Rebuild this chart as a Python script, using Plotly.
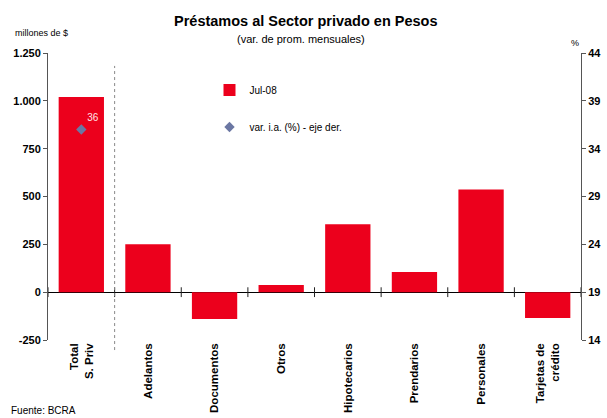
import plotly.graph_objects as go

categorias = ["Total<br>S. Priv", "Adelantos", "Documentos", "Otros", "Hipotecarios",
              "Prendarios", "Personales", "Tarjetas de<br>crédito"]
jul08 = [1020, 250, -140, 37, 355, 105, 537, -135]
var_ia = [36]
y_left_ticks = [-250, 0, 250, 500, 750, 1000, 1250]
y_left_text = ["-250", "0", "250", "500", "750", "1.000", "1.250"]
y_right_ticks = [14, 19, 24, 29, 34, 39, 44]

ROJO = "#EC001C"
AZUL = "#6B77A3"
FONT = "Liberation Sans, Arial, sans-serif"
posiciones = list(range(len(categorias)))
limites = [p - 0.5 for p in posiciones] + [len(categorias) - 0.5]

fig = go.Figure()

fig.add_trace(go.Bar(
    x=posiciones, y=jul08, name="Jul-08",
    marker=dict(color=ROJO, line=dict(width=0)),
    width=0.68, legend="legend",
))

# small tick marks crossing the zero line at the category limits
fig.add_trace(go.Scatter(
    x=limites, y=[0] * len(limites), mode="markers",
    marker=dict(symbol="line-ns", size=7, line=dict(color="#222222", width=1)),
    showlegend=False, hoverinfo="skip",
))

fig.add_trace(go.Scatter(
    x=[posiciones[0]], y=var_ia, name="var. i.a. (%) - eje der.",
    mode="markers+text", text=[str(v) for v in var_ia],
    textposition="top right", textfont=dict(color="#FFE4E8", size=10, family=FONT),
    marker=dict(symbol="diamond", color=AZUL, size=8),
    yaxis="y2", legend="legend2",
))

axis_line = "#555555"

fig.update_layout(
    width=607, height=418,
    margin=dict(l=48, r=26, t=53, b=78),
    paper_bgcolor="white", plot_bgcolor="white",
    font=dict(family=FONT, color="black", size=11),
    showlegend=True,
    xaxis=dict(
        range=[-0.5, len(categorias) - 0.5],
        tickvals=posiciones, ticktext=categorias, tickangle=-90,
        ticks="", showline=False, showgrid=False, zeroline=False,
        tickfont=dict(size=11.5, family=FONT, weight="bold"),
        automargin=False,
    ),
    yaxis=dict(
        range=[y_left_ticks[0], y_left_ticks[-1]],
        tickvals=y_left_ticks, ticktext=y_left_text,
        ticks="outside", ticklen=4, tickcolor=axis_line,
        showline=True, linecolor=axis_line, linewidth=1,
        showgrid=False, zeroline=True, zerolinecolor="black", zerolinewidth=1,
        tickfont=dict(size=11, family=FONT, weight="bold"),
        automargin=False,
    ),
    yaxis2=dict(
        overlaying="y", side="right", anchor="x",
        range=[y_right_ticks[0], y_right_ticks[-1]],
        tickvals=y_right_ticks,
        ticks="outside", ticklen=4, tickcolor=axis_line,
        showline=True, linecolor=axis_line, linewidth=1,
        showgrid=False, zeroline=False,
        tickfont=dict(size=11, family=FONT, weight="bold"),
        automargin=False,
    ),
    legend=dict(
        x=0.303, y=0.871, xanchor="left", yanchor="middle",
        bgcolor="rgba(0,0,0,0)", font=dict(size=10, family=FONT),
        itemwidth=30,
    ),
    legend2=dict(
        x=0.303, y=0.742, xanchor="left", yanchor="middle",
        bgcolor="rgba(0,0,0,0)", font=dict(size=10, family=FONT),
        itemwidth=30,
    ),
    shapes=[dict(
        type="line", xref="x", yref="paper", x0=0.5, x1=0.5, y0=-0.035, y1=0.955,
        line=dict(color="#888888", width=1, dash="dot"),
    )],
    annotations=[
        dict(text="<b>Préstamos al Sector privado en Pesos</b>", xref="paper", yref="paper",
             x=0.484, y=1.0, yshift=32, yanchor="middle", showarrow=False,
             font=dict(size=14.5, family=FONT)),
        dict(text="(var. de prom. mensuales)", xref="paper", yref="paper",
             x=0.475, y=1.0, yshift=14, yanchor="middle", showarrow=False,
             font=dict(size=11, family=FONT)),
        dict(text="millones de $", xref="paper", yref="paper", x=0, y=1.0, xshift=-35,
             yshift=20, xanchor="left", yanchor="middle", showarrow=False,
             font=dict(size=9, family=FONT)),
        dict(text="%", xref="paper", yref="paper", x=1.0, y=1.0, yshift=10,
             yanchor="middle", showarrow=False, font=dict(size=9, family=FONT)),
        dict(text="Fuente: BCRA", xref="paper", yref="paper", x=0, y=0, xshift=-39,
             yshift=-70, xanchor="left", yanchor="middle", showarrow=False,
             font=dict(size=10, family=FONT)),
    ],
)

fig.write_html("out.html", config={"displayModeBar": False},
               post_script="document.body.style.margin='0';")
